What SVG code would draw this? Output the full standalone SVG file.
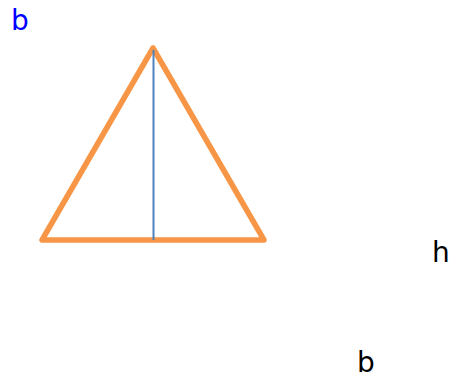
<svg xmlns="http://www.w3.org/2000/svg" width="461" height="381" viewBox="0 0 461 381">
<style>
.lbl{font-family:"DejaVu Sans",sans-serif;font-size:28px}
</style>
<rect width="461" height="381" fill="#fff"/>
<g id="triangle">
<polygon points="153,48 42,240 264,240" fill="none" stroke="#F79646" stroke-width="5.5" stroke-linejoin="round"/>
</g>
<g id="connectors">
<line x1="153.5" y1="50" x2="153.5" y2="240" stroke="#4F81BD" stroke-width="2"/>
</g>
<g id="label-b-top"><text class="lbl" x="11" y="30" fill="#0000FF">b</text></g>
<g id="label-h"><text class="lbl" x="432" y="262" fill="#000">h</text></g>
<g id="label-b-bottom"><text class="lbl" x="357" y="372" fill="#000">b</text></g>
</svg>
